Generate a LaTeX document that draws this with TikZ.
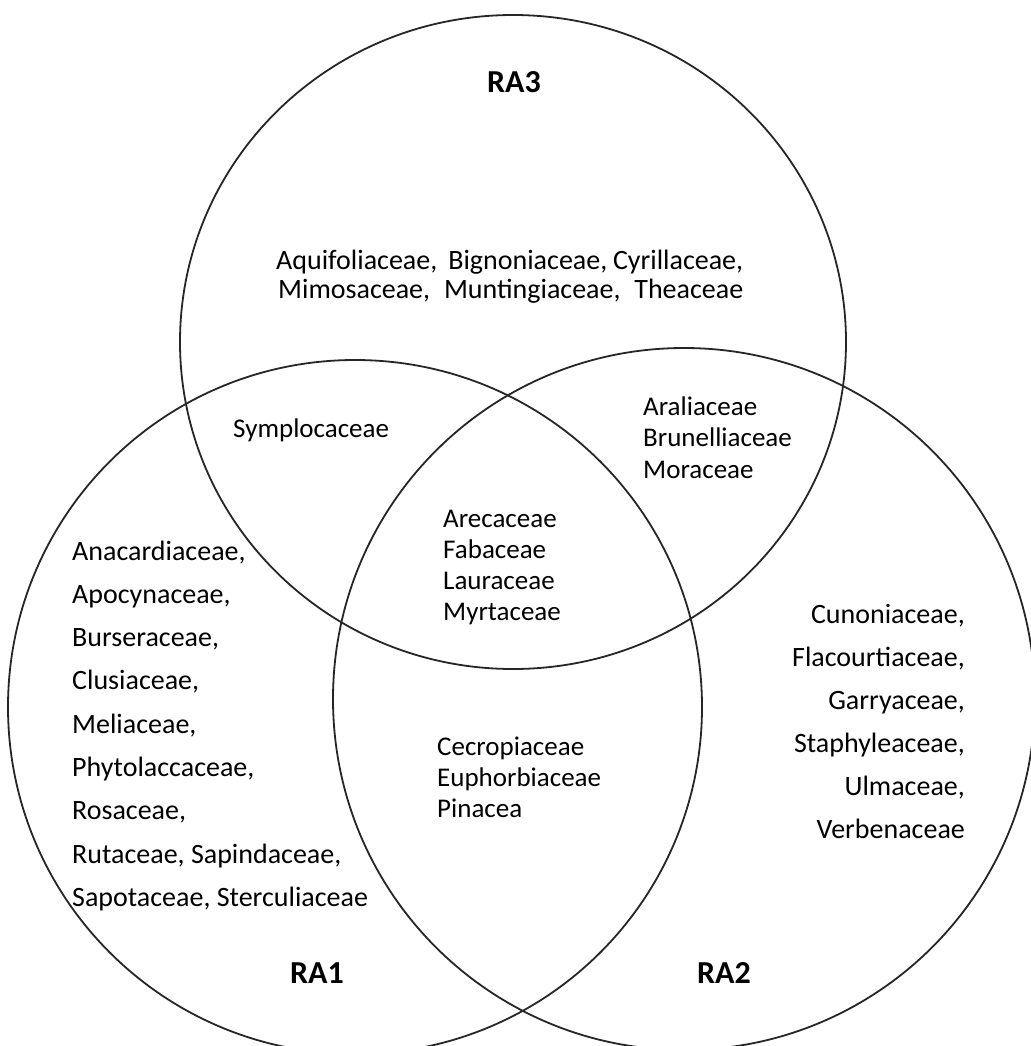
\documentclass[tikz,border=0pt]{standalone}
\usepackage{fontspec}
\setmainfont{Carlito}
\begin{document}
\begin{tikzpicture}[x=1pt,y=-1pt,
  ring/.style={draw=black!85,line width=1.8pt},
  lbl/.style={inner sep=0pt,font=\fontsize{27}{32}\selectfont},
  lst/.style={inner sep=0pt,font=\fontsize{28}{34}\selectfont},
  ttl/.style={inner sep=0pt,font=\fontsize{32}{38}\selectfont\bfseries}]
\useasboundingbox (0,0) rectangle (1030,1046);
\fill[white] (0,0) rectangle (1030,1046);
% circles
\draw[ring] (513,342) ellipse [x radius=333pt, y radius=327pt];
\draw[ring] (355,707) circle [radius=347pt];
\draw[ring] (684,699) circle [radius=351pt];
% titles
\node[ttl,anchor=base] (ra3) at (514,93) {RA3};
\node[ttl,anchor=base] (ra1) at (317,983) {RA1};
\node[ttl,anchor=base] (ra2) at (724,983) {RA2};
% RA3 only
\node[lst,anchor=base west] (t1) at (276,269) {\makebox[467pt][s]{Aquifoliaceae,\ \ Bignoniaceae, Cyrillaceae,}};
\node[lst,anchor=base west] (t2) at (278,298) {\makebox[465pt][s]{Mimosaceae,\ \ Muntingiaceae,\ \ Theaceae}};
% RA1 & RA3
\node[lbl,anchor=base west] (sym) at (233,437) {Symplocaceae};
% RA2 & RA3
\foreach \t [count=\i] in {Araliaceae,Brunelliaceae,Moraceae}
  \node[lbl,anchor=base west] (ar\i) at (643,{415+31.5*(\i-1)}) {\t};
% all three
\foreach \t [count=\i] in {Arecaceae,Fabaceae,Lauraceae,Myrtaceae}
  \node[lbl,anchor=base west] (c\i) at (443,{527+31*(\i-1)}) {\t};
% RA1 & RA2
\foreach \t [count=\i] in {Cecropiaceae,Euphorbiaceae,Pinacea}
  \node[lbl,anchor=base west] (e\i) at (437,{755+31*(\i-1)}) {\t};
% RA1 only
\foreach \t [count=\i] in {{Anacardiaceae,},{Apocynaceae,},{Burseraceae,},{Clusiaceae,},{Meliaceae,},{Phytolaccaceae,},{Rosaceae,},{Rutaceae, Sapindaceae,},{Sapotaceae, Sterculiaceae}}
  \node[lst,anchor=base west] (l\i) at (72,{560+43.3*(\i-1)}) {\t};
% RA2 only
\foreach \t [count=\i] in {{Cunoniaceae,},{Flacourtiaceae,},{Garryaceae,},{Staphyleaceae,},{Ulmaceae,},{Verbenaceae}}
  \node[lst,anchor=base east] (r\i) at (965,{623+43*(\i-1)}) {\t};
\end{tikzpicture}
\end{document}
